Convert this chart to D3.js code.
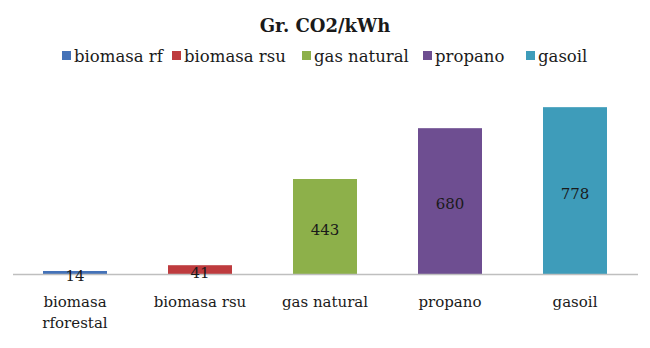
<!DOCTYPE html>
<html>
<head>
<meta charset="utf-8">
<script src="https://cdn.jsdelivr.net/npm/d3@7"></script>
<style>
  html, body { margin: 0; padding: 0; background: #fff; }
</style>
</head>
<body>
<div id="chart"></div>
<script>
// Emissions per kWh by fuel
const categories = [["biomasa", "rforestal"], ["biomasa rsu"], ["gas natural"], ["propano"], ["gasoil"]];
const seriesNames = ["biomasa rf", "biomasa rsu", "gas natural", "propano", "gasoil"];
const values = [14, 41, 443, 680, 778];
const colors = ["#4472B8", "#BE3B3E", "#8DB04A", "#6E4E91", "#3E9CBA"];
const yDomain = [0, 900];

const FONT = "'DejaVu Serif', serif";
const W = 650, H = 348;
const svg = d3.select("#chart").append("svg").attr("width", W).attr("height", H)
  .attr("font-family", FONT).attr("fill", "#1a1a1a");

const x = d3.scaleBand().domain(d3.range(values.length)).range([12.5, 637.5]).paddingInner(0.488).paddingOuter(0.244);
const y = d3.scaleLinear().domain(yDomain).range([274, 81]);

// title
svg.append("text").attr("x", 325).attr("y", 32).attr("text-anchor", "middle")
  .attr("font-family", FONT).attr("font-weight", "bold").attr("font-size", 18).text("Gr. CO2/kWh");

// legend
const legendX = [62, 172, 302, 423, 526];
const leg = svg.append("g");
seriesNames.forEach((n, i) => {
  const g = leg.append("g").attr("transform", `translate(${legendX[i]},56)`);
  g.append("rect").attr("x", 0).attr("y", -5).attr("width", 9).attr("height", 9).attr("fill", colors[i]);
  g.append("text").attr("x", 12).attr("y", 0).attr("dy", "0.35em").attr("font-family", FONT).attr("font-size", 16.5).text(n);
});

// bars
svg.append("g").selectAll("rect").data(values).join("rect")
  .attr("x", (d, i) => x(i)).attr("width", x.bandwidth())
  .attr("y", d => y(d)).attr("height", d => y(0) - y(d))
  .attr("fill", (d, i) => colors[i]);

// baseline axis
const axis = svg.append("g").attr("transform", `translate(0,${y(0)})`)
  .call(d3.axisBottom(x).tickSize(0).tickFormat(""));
axis.select(".domain").attr("stroke", "#BFBFBF").attr("stroke-width", 1.3);

// category labels
categories.forEach((lines, i) => {
  const t = svg.append("text").attr("x", x(i) + x.bandwidth() / 2).attr("y", 307)
    .attr("text-anchor", "middle").attr("font-family", FONT).attr("font-size", 15);
  lines.forEach((l, j) => t.append("tspan").attr("x", x(i) + x.bandwidth() / 2).attr("dy", j ? 21 : 0).text(l));
});

// value labels
svg.append("g").selectAll("text").data(values).join("text")
  .attr("x", (d, i) => x(i) + x.bandwidth() / 2)
  .attr("y", d => (y(d) + y(0)) / 2 + 3)
  .attr("dy", "0.35em").attr("text-anchor", "middle").attr("font-family", FONT).attr("font-size", 15)
  .text(d => d);
</script>
</body>
</html>
